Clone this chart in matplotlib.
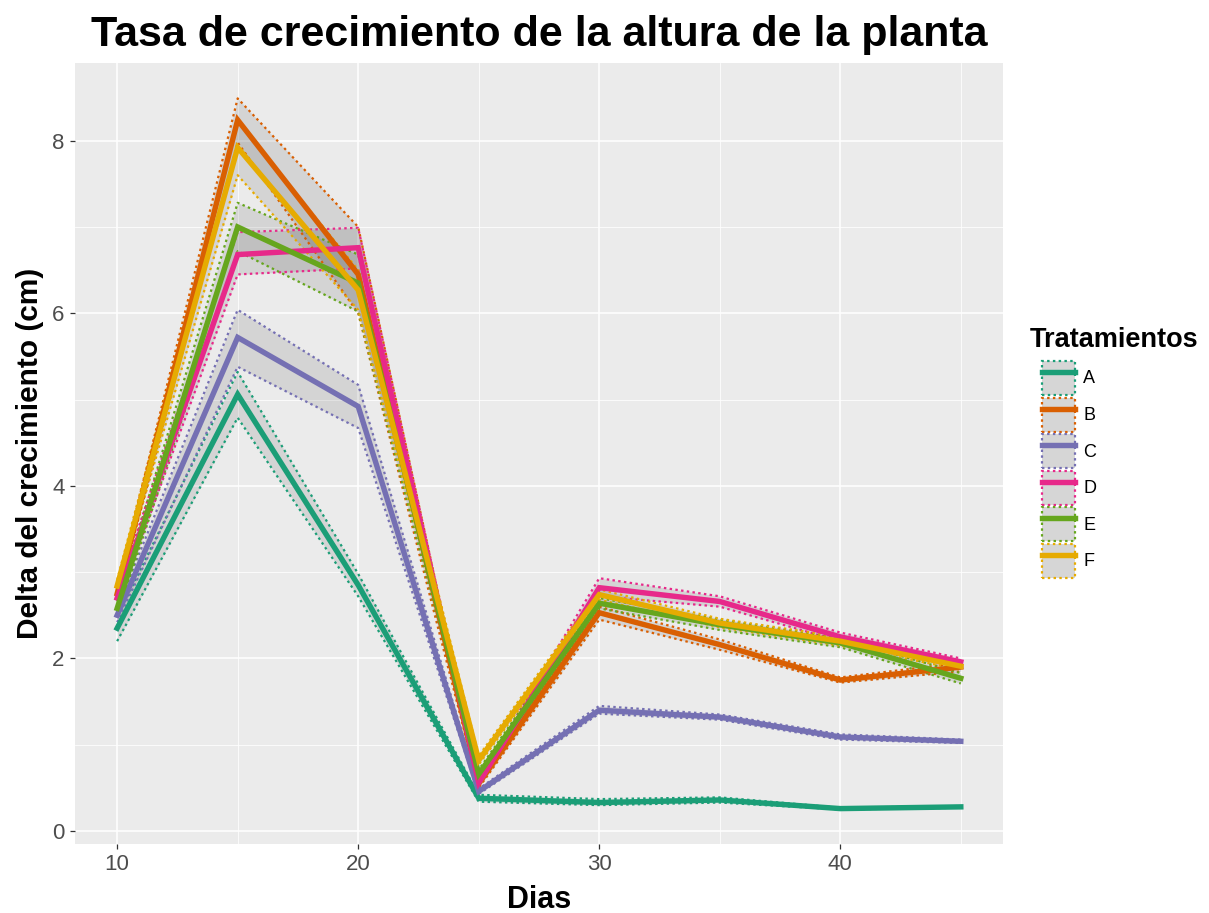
import numpy as np
import matplotlib
matplotlib.use('Agg')
import matplotlib.pyplot as plt
import matplotlib.patches as mpatches
from matplotlib.lines import Line2D

plt.rcParams['font.family'] = ['Liberation Sans', 'DejaVu Sans']

dias = [10, 15, 20, 25, 30, 35, 40, 45]
tratamientos = ['A', 'B', 'C', 'D', 'E', 'F']
colores = ['#1B9E77', '#D95F02', '#7570B3', '#E7298A', '#66A61E', '#E6AB02']

media = {
    'A': [2.35, 5.06, 2.85, 0.38, 0.33, 0.36, 0.26, 0.28],
    'B': [2.75, 8.24, 6.45, 0.55, 2.53, 2.16, 1.75, 1.90],
    'C': [2.50, 5.72, 4.92, 0.46, 1.40, 1.32, 1.09, 1.04],
    'D': [2.70, 6.68, 6.76, 0.56, 2.82, 2.66, 2.25, 1.96],
    'E': [2.58, 7.00, 6.35, 0.66, 2.64, 2.39, 2.18, 1.77],
    'F': [2.84, 7.92, 6.27, 0.82, 2.74, 2.41, 2.20, 1.91],
}
inf = {
    'A': [2.20, 4.79, 2.72, 0.34, 0.30, 0.33, 0.25, 0.27],
    'B': [2.68, 7.98, 6.00, 0.50, 2.45, 2.10, 1.72, 1.85],
    'C': [2.42, 5.38, 4.67, 0.43, 1.36, 1.29, 1.06, 1.02],
    'D': [2.62, 6.45, 6.52, 0.52, 2.72, 2.60, 2.20, 1.92],
    'E': [2.50, 6.72, 6.02, 0.61, 2.58, 2.33, 2.13, 1.71],
    'F': [2.77, 7.60, 6.04, 0.77, 2.68, 2.36, 2.15, 1.87],
}
sup = {
    'A': [2.48, 5.32, 2.98, 0.42, 0.37, 0.39, 0.27, 0.29],
    'B': [2.82, 8.49, 7.00, 0.60, 2.60, 2.22, 1.78, 1.95],
    'C': [2.58, 6.04, 5.17, 0.49, 1.45, 1.35, 1.12, 1.06],
    'D': [2.78, 6.94, 6.99, 0.60, 2.93, 2.72, 2.30, 2.00],
    'E': [2.66, 7.28, 6.68, 0.71, 2.70, 2.45, 2.23, 1.83],
    'F': [2.91, 8.22, 6.50, 0.87, 2.80, 2.46, 2.25, 1.95],
}

punteado = (0, (1.1, 1.5))

fig = plt.figure(figsize=(12.09, 9.13), dpi=100)
ax = fig.add_axes([0.062, 0.0756, 0.7676, 0.8554])
ax.set_facecolor('#EBEBEB')
for s in ax.spines.values():
    s.set_visible(False)

ax.set_xlim(8.25, 46.75)
ax.set_ylim(-0.15, 8.9)
ax.set_xticks([10, 20, 30, 40])
ax.set_yticks([0, 2, 4, 6, 8])
ax.set_xticks([15, 25, 35, 45], minor=True)
ax.set_yticks([1, 3, 5, 7], minor=True)
ax.grid(which='major', color='white', linewidth=1.1)
ax.grid(which='minor', color='white', linewidth=0.55)
ax.set_axisbelow(True)
ax.tick_params(which='major', length=3.5, width=0.9, color='#333333',
               labelcolor='#4D4D4D', labelsize=16, pad=4)
ax.tick_params(which='minor', length=0)

# bandas primero, luego las lineas encima
for t, c in zip(tratamientos, colores):
    ax.fill_between(dias, inf[t], sup[t], color='#333333', alpha=0.12, linewidth=0)
    ax.plot(dias, inf[t], color=c, linestyle=punteado, linewidth=1.6)
    ax.plot(dias, sup[t], color=c, linestyle=punteado, linewidth=1.6)
for t, c in zip(tratamientos, colores):
    ax.plot(dias, media[t], color=c, linewidth=3.9, solid_joinstyle='miter')

ax.set_title('Tasa de crecimiento de la altura de la planta', fontsize=31,
             fontweight='bold', pad=12)
ax.set_xlabel('Dias', fontsize=22, fontweight='bold', labelpad=7)
ax.set_ylabel('Delta del crecimiento (cm)', fontsize=21.5, fontweight='bold', labelpad=6)

fig.text(0.852, 1 - 340 / 913, 'Tratamientos', fontsize=19.5, fontweight='bold',
         ha='left', va='center')

handles = []
for c in colores:
    caja = mpatches.Patch(facecolor='#D6D6D6', edgecolor=c, linestyle=punteado, linewidth=1.6)
    linea = Line2D([], [], color=c, linewidth=3.9)
    handles.append((caja, linea))
leg = fig.legend(handles, tratamientos, loc='upper left', bbox_to_anchor=(0.8619, 1 - 361 / 913),
                 frameon=False, fontsize=13,
                 handlelength=1.83, handleheight=2.52, labelspacing=0.14,
                 handletextpad=0.45, borderpad=0, borderaxespad=0)

fig.savefig('out.png', dpi=100)
